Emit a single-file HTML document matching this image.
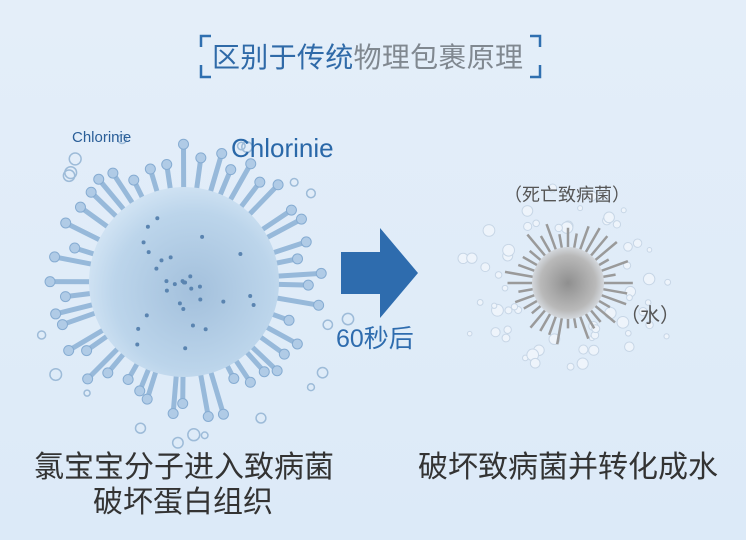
<!DOCTYPE html>
<html><head><meta charset="utf-8"><style>
html,body{margin:0;padding:0}
body{width:750px;height:549px;overflow:hidden;background:#fff;font-family:"Liberation Sans","Noto Sans CJK SC",sans-serif}
#c{position:absolute;left:0;top:0;width:746px;height:540px;background:linear-gradient(#e4eef9,#dceaf8)}
.t{position:absolute;white-space:nowrap;line-height:1.2}
</style></head><body>
<div id="c"></div>
<svg id="s" width="750" height="549" style="position:absolute;left:0;top:0">
<defs>
<radialGradient id="vb" cx="0.55" cy="0.55" r="0.6"><stop offset="0" stop-color="#a3c0dc"/><stop offset="0.7" stop-color="#bcd5eb"/><stop offset="1" stop-color="#d5e6f5"/></radialGradient>
<radialGradient id="gb" cx="0.5" cy="0.5" r="0.55"><stop offset="0" stop-color="#8f8f8f"/><stop offset="0.7" stop-color="#b9b9b9"/><stop offset="1" stop-color="#dfe5ec"/></radialGradient>
</defs>
<g fill="none" stroke="#2f6fb0" stroke-width="2.5">
<path d="M201 47 V36 H211"/><path d="M201 65 V77 H211"/><path d="M530 36 H540 V47"/><path d="M530 77 H540 V65"/>
</g>
<g id="v1"></g><g id="v2"></g>
<path d="M341 252 H380 V228 L418 273 L380 318 V294 H341 Z" fill="#2e6cae"/>
</svg>
<div class="t" style="left:212px;top:41px;font-size:28px;color:#2f6aa8;letter-spacing:0.3px">区别于传统<span style="color:#808890">物理包裹原理</span></div>
<div class="t" style="left:72px;top:129px;font-size:15px;color:#2a5e98">Chlorinie</div>
<div class="t" style="left:231px;top:133px;font-size:26px;color:#2a68a8">Chlorinie</div>
<div class="t" style="left:336px;top:324px;font-size:25px;color:#2e6cae">60秒后</div>
<div class="t" style="left:504px;top:185px;font-size:18px;color:#555">（死亡致病菌）</div>
<div class="t" style="left:620px;top:304px;font-size:20px;color:#555">（水）</div>
<div class="t" style="left:34px;top:450px;font-size:30px;color:#333">氯宝宝分子进入致病菌</div>
<div class="t" style="left:93px;top:485px;font-size:30px;color:#333">破坏蛋白组织</div>
<div class="t" style="left:418px;top:450px;font-size:30px;color:#333">破坏致病菌并转化成水</div>
<script>
var ns="http://www.w3.org/2000/svg";
function el(p,t,a){var e=document.createElementNS(ns,t);for(var k in a)e.setAttribute(k,a[k]);p.appendChild(e);return e;}
var g=document.getElementById('v1');var cx=184,cy=282;
var r=1;function rnd(){r=(r*9301+49297)%233280;return r/233280;}
for(var i=0;i<46;i++){var a=i/46*6.283+rnd()*0.1;var L=108+rnd()*30;
var x1=cx+Math.cos(a)*80,y1=cy+Math.sin(a)*80,x2=cx+Math.cos(a)*L,y2=cy+Math.sin(a)*L;
el(g,'line',{x1:x1,y1:y1,x2:x2,y2:y2,stroke:'#97b9da','stroke-width':5,'stroke-linecap':'round'});
el(g,'circle',{cx:x2,cy:y2,r:5,fill:'#b0cbe6',stroke:'#86acd2','stroke-width':1});}
el(g,'circle',{cx:cx,cy:cy,r:95,fill:'url(#vb)'});
for(var i=0;i<30;i++){var a=rnd()*6.283,d=rnd()*80;el(g,'circle',{cx:cx+Math.cos(a)*d,cy:cy+Math.sin(a)*d,r:2,fill:'#5a84b0'});}
for(var i=0;i<20;i++){var a=rnd()*6.283,d=150+rnd()*20;el(g,'circle',{cx:cx+Math.cos(a)*d,cy:cy+Math.sin(a)*d*0.95,r:3+rnd()*3,fill:'none',stroke:'#9dbbd8','stroke-width':1.5});}
var h=document.getElementById('v2');cx=568;cy=283;
for(var i=0;i<60;i++){var a=rnd()*6.283,d=45+rnd()*55;el(h,'circle',{cx:cx+Math.cos(a)*d*1.2,cy:cy+Math.sin(a)*d,r:2+rnd()*4,fill:'#eef4fb',stroke:'#c7d6e6','stroke-width':1});}
for(var i=0;i<36;i++){var a=i/36*6.283;var L=45+rnd()*20;
el(h,'line',{x1:cx,y1:cy,x2:cx+Math.cos(a)*L,y2:cy+Math.sin(a)*L,stroke:'#9a9a9a','stroke-width':2.5});}
el(h,'circle',{cx:cx,cy:cy,r:36,fill:'url(#gb)'});
</script>
</body></html>
